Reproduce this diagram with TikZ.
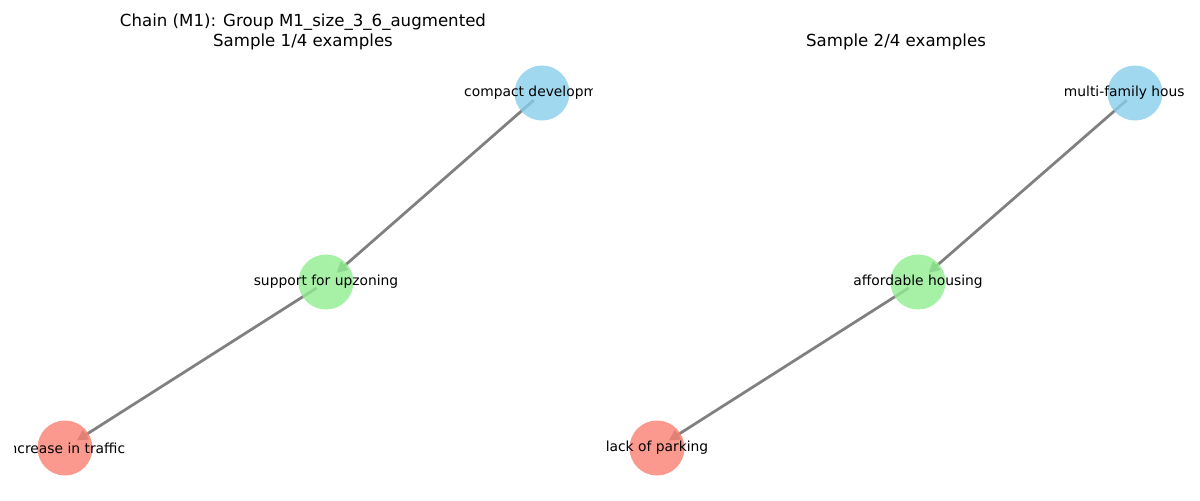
\documentclass[tikz,border=0pt]{standalone}
\usepackage{fontspec}
\setmainfont{DejaVu Sans}
\usetikzlibrary{arrows.meta,backgrounds}
\definecolor{skyblue}{HTML}{87CEEB}
\definecolor{lightgreen}{HTML}{90EE90}
\definecolor{salmon}{HTML}{FA8072}
\tikzset{
	blob/.style={circle, draw=none, fill=#1, fill opacity=.8, minimum size=.55in, inner sep=0pt},
	lbl/.style={font=\fontsize{10}{12}\selectfont, inner sep=0pt},
	ttl/.style={font=\fontsize{12}{14.4}\selectfont, align=center, inner sep=0pt},
	link/.style={draw=gray, line width=2pt, -{Triangle[length=8pt,width=8pt]}, shorten <=.11in, shorten >=.14in}
}
\begin{document}
\begin{tikzpicture}[x=.01in, y=-.01in, line join=round, line cap=round]
		\useasboundingbox (0,0) rectangle (1200,500);
		\node[ttl] (t1) at (303,32) {Chain (M1): Group M1\_size\_3\_6\_augmented\\Sample 1/4 examples};
		\node[ttl] (t2) at (896,42) {Sample 2/4 examples};
	\begin{scope}
		\clip (14,0) rectangle (592,500);
		\foreach \p/\x/\y/\c/\t in {b1/542/93/skyblue/compact development, g1/326/282/lightgreen/support for upzoning, r1/65/448/salmon/increase in traffic}
			{\node[blob=\c] (\p) at (\x,\y) {}; \node[lbl] (t\p) at (\p) {\t};}
	\end{scope}
	\begin{scope}
		\clip (605,0) rectangle (1183,500);
		\foreach \p/\x/\y/\c/\t in {b2/1135/93/skyblue/multi-family housing, g2/918/282/lightgreen/affordable housing, r2/657/448/salmon/lack of parking}
			{\node[blob=\c] (\p) at (\x,\y) {}; \node[lbl] (t\p) at (\p) {\t};}
	\end{scope}
	\begin{scope}[on background layer]
		\foreach \a/\b in {b1/g1,g1/r1,b2/g2,g2/r2} \draw[link] (\a.center) -- (\b.center);
	\end{scope}
\end{tikzpicture}
\end{document}
